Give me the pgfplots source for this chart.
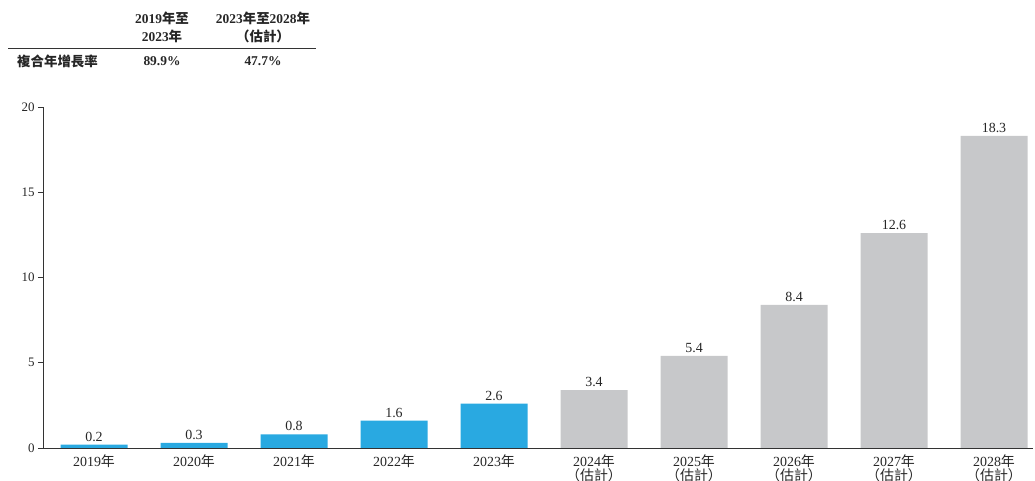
\documentclass[border=0pt]{standalone}
\usepackage{pgfplots}
\pgfplotsset{compat=1.18}
\usepackage{fontspec}
\setmainfont{Liberation Serif}
\newfontfamily\cjk{Noto Sans CJK TC}
\definecolor{barblue}{HTML}{29A9E1}
\definecolor{bargray}{HTML}{C7C8CA}
\definecolor{axisgray}{HTML}{333333}

\pgfplotstableread{
x y
0 0.2
1 0.3
2 0.8
3 1.6
4 2.6
}\hist
\pgfplotstableread{
x y
5 3.4
6 5.4
7 8.4
8 12.6
9 18.3
}\fcst

\begin{document}
\begin{tikzpicture}[x=1bp,y=1bp]
\path[use as bounding box] (0,0) rectangle (1035,481);
\begin{axis}[
  at={(43bp,33bp)}, anchor=south west,
  scale only axis, width=990bp, height=341bp,
  xmin=-0.51, xmax=9.39, ymin=0, ymax=20,
  axis x line*=bottom, axis y line*=left,
  axis line style={axisgray, line width=0.8pt},
  ytick={0,5,10,15,20},
  xtick={0,...,9},
  xticklabels={2019{\cjk 年},2020{\cjk 年},2021{\cjk 年},2022{\cjk 年},2023{\cjk 年},
    2024{\cjk 年}\\{\cjk （估計）},2025{\cjk 年}\\{\cjk （估計）},2026{\cjk 年}\\{\cjk （估計）},
    2027{\cjk 年}\\{\cjk （估計）},2028{\cjk 年}\\{\cjk （估計）}},
  xticklabel style={align=center, font=\fontsize{14}{13}\selectfont, text=black!85, inner sep=1.5pt},
  yticklabel style={font=\fontsize{13}{14}\selectfont, text=black!85},
  tick align=outside, major tick length=5bp,
  major x tick style={draw=none},
  major y tick style={axisgray, line width=0.8pt},
  /pgf/number format/assume math mode=true,
  ybar, bar width=0.67, bar shift=0pt,
  nodes near coords={\pgfmathprintnumber[fixed,fixed zerofill,precision=1,assume math mode=true]{\pgfplotspointmeta}},
  every node near coord/.append style={font=\fontsize{14}{14}\selectfont, text=black!85, inner sep=3pt},
  clip=false,
]
\addplot[draw=none, fill=barblue] table[x=x,y=y] {\hist};
\addplot[draw=none, fill=bargray] table[x=x,y=y] {\fcst};
\end{axis}
% CAGR table
\begin{scope}[every node/.style={font=\fontsize{13.5}{15}\selectfont\bfseries, text=black!85, inner sep=0pt}]
\node at (162,463) {2019{\cjk\bfseries 年至}};
\node at (162,445) {2023{\cjk\bfseries 年}};
\node at (263,463) {2023{\cjk\bfseries 年至}2028{\cjk\bfseries 年}};
\node at (263,445) {{\cjk\bfseries （估計）}};
\node[anchor=west] at (17,420) {{\cjk\bfseries 複合年增長率}};
\node at (162,420) {89.9\%};
\node at (263,420) {47.7\%};
\end{scope}
\draw[axisgray, line width=0.9pt] (8,433) -- (316,433);
\end{tikzpicture}
\end{document}
